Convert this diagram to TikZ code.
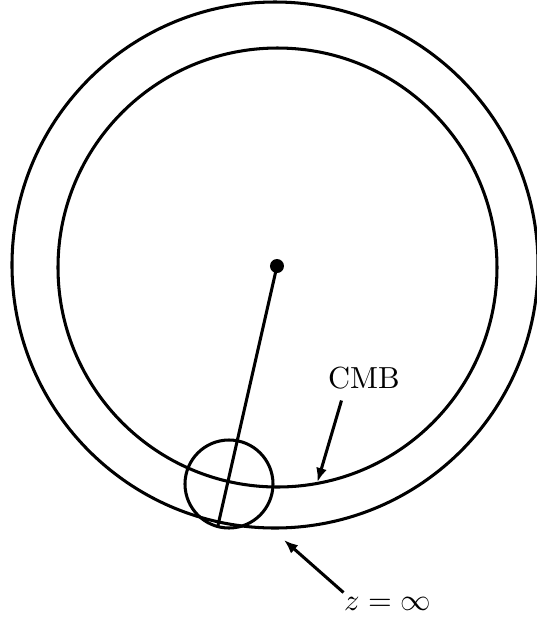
\documentclass[tikz,border=0pt]{standalone}
\usepackage{amsmath,amssymb}
\usepackage{tikz}
\usetikzlibrary{arrows.meta,positioning}
\definecolor{ink}{HTML}{000000}

\begin{document}
\begin{tikzpicture}[x=0.328pt,y=-0.328pt,line width=1pt,
    shell/.style={draw=ink},
    pointer/.style={draw=ink,-{Latex[length=4.6pt,width=3.6pt]}}]
        \useasboundingbox (0,0) rectangle (537,622);

        % last scattering shell
        \draw[shell] (275,265) circle [radius=263];
        \draw[shell] (277.5,267.5) circle [radius=219.5];

        % observer and line of sight
        \coordinate (obs) at (277,266);
        \coordinate (edge) at (217.5,527.5);
        \fill[ink] (obs) circle [radius=7];
        \draw[ink] (obs) -- (edge);
        \draw[shell] (229,484) circle [radius=44];

        \node (cmb) at (364,378) {CMB};
        \node (zinf) at (387.5,604) {$z=\infty$};
        \coordinate (cmbfrom) at (341.5,400.5);
        \coordinate (cmbto) at (317.5,482);
        \coordinate (zfrom) at (343.5,592.5);
        \coordinate (zto) at (284,540);
        \draw[pointer] (cmbfrom) -- (cmbto);
        \draw[pointer] (zfrom) -- (zto);
      \end{tikzpicture}
\end{document}
